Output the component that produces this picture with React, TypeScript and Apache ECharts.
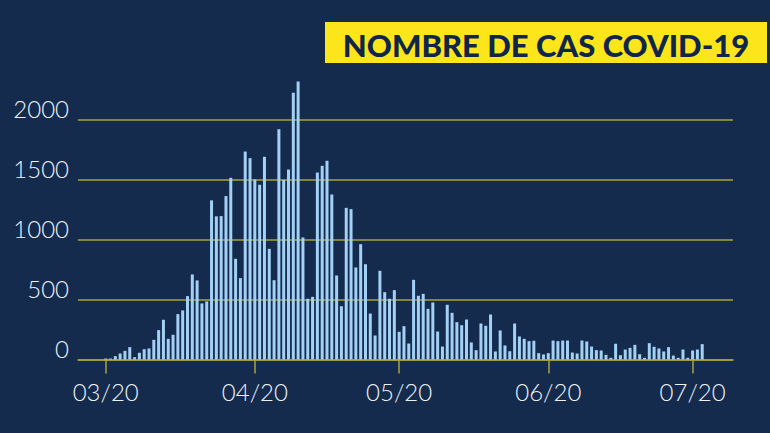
import React, { useEffect, useRef } from 'react';
import * as echarts from 'echarts';

const TITLE = 'NOMBRE DE CAS COVID-19';
// daily cases, one value per day starting 1 March 2020
const dailyCases = [
  8, 8, 28, 50, 72, 103, 19, 56, 86, 92,
  164, 245, 331, 172, 206, 378, 409, 528, 709, 659,
  467, 484, 1326, 1193, 1195, 1362, 1514, 839, 678, 1733,
  1678, 1500, 1456, 1689, 922, 661, 1919, 1497, 1583, 2222,
  2317, 1017, 506, 522, 1558, 1614, 1656, 1375, 700, 444,
  1264, 1253, 767, 961, 794, 383, 200, 739, 561, 506,
  578, 231, 278, 133, 664, 531, 547, 422, 475, 233,
  108, 456, 389, 311, 286, 333, 142, 78, 300, 281,
  375, 67, 242, 117, 69, 300, 192, 172, 153, 156,
  53, 42, 53, 158, 153, 158, 158, 58, 50, 158,
  150, 108, 78, 75, 39, 14, 131, 36, 83, 97,
  122, 44, 14, 136, 106, 92, 67, 103, 33, 14,
  83, 14, 75, 83, 128,
];
const firstDay = { year: 2020, month: 2, day: 1 };
const monthTickMonths = [2, 3, 4, 5, 6]; // March..July 2020
const yTicks = [0, 500, 1000, 1500, 2000];

export default function App() {
  const ref = useRef<HTMLDivElement>(null);
  useEffect(() => {
    const chart = echarts.init(ref.current as HTMLDivElement, null, { renderer: 'svg' });
    const DAY = 86400000;
    const base = Date.UTC(firstDay.year, firstDay.month, firstDay.day);
    const data = dailyCases.map((v, i) => [i, v]);
    const monthTicks = monthTickMonths.map((m) =>
      Math.round((Date.UTC(firstDay.year, m, 1) - base) / DAY)
    );
    const pad = (n: number) => (n < 10 ? '0' + n : '' + n);
    const gridColor = '#a8a53a';
    const labelFont = 'Lato, "Open Sans", sans-serif';

    chart.setOption({
      animation: false,
      backgroundColor: '#152b4d',
      grid: { left: 78, right: 37, top: 119.5, bottom: 73.5, containLabel: false },
      xAxis: {
        type: 'value',
        min: -5.76,
        max: 130.4,
        splitLine: { show: false },
        axisLine: { show: true, onZero: false, lineStyle: { color: gridColor, width: 1.5 } },
        axisTick: {
          show: true,
          length: 14,
          lineStyle: { color: gridColor, width: 1.5 },
          customValues: monthTicks,
        },
        axisLabel: {
          customValues: monthTicks,
          color: '#eef2f7',
          fontSize: 24,
          fontWeight: 300,
          fontFamily: labelFont,
          margin: 20,
          formatter: (v: number) => {
            const d = new Date(base + Math.round(v) * DAY);
            return pad(d.getUTCMonth() + 1) + '/' + String(d.getUTCFullYear()).slice(2);
          },
        },
      },
      yAxis: {
        type: 'value',
        min: yTicks[0],
        max: yTicks[yTicks.length - 1],
        interval: yTicks[1] - yTicks[0],
        axisLine: { show: false },
        axisTick: { show: false },
        splitLine: { show: true, lineStyle: { color: gridColor, width: 1.5 } },
        axisLabel: {
          color: '#eef2f7',
          fontSize: 24,
          fontWeight: 300,
          fontFamily: labelFont,
          margin: 9,
          verticalAlign: 'bottom',
          lineHeight: 22,
          formatter: (v: number) => String(v),
        },
      },
      series: [
        {
          type: 'bar',
          data,
          barWidth: 3,
          clip: false,
          itemStyle: { color: '#a3d0f5' },
        },
      ],
      graphic: [
        {
          type: 'rect',
          shape: { x: 325, y: 22, width: 442, height: 41 },
          style: { fill: '#fce51a' },
        },
        {
          type: 'text',
          x: 546,
          y: 45,
          style: {
            text: TITLE,
            fill: '#10254a',
            font: '900 31px Lato, "Open Sans", sans-serif',
            align: 'center',
            verticalAlign: 'middle',
          },
        },
      ],
    });
    return () => chart.dispose();
  }, []);
  return (
    <div
      ref={ref}
      style={{ position: 'fixed', left: 0, top: 0, width: 770, height: 433 }}
    />
  );
}
